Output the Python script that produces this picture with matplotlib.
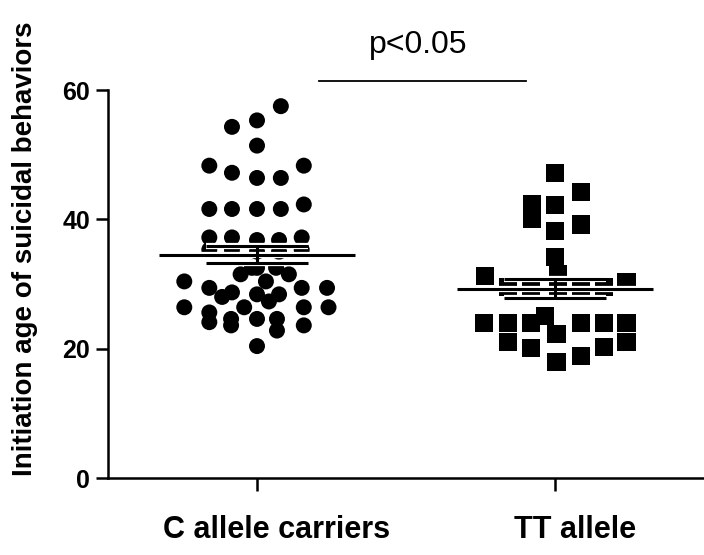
import numpy as np
import matplotlib
matplotlib.use("Agg")
from matplotlib import pyplot as plt
from matplotlib import patheffects as pe
from matplotlib import transforms

plt.rcParams['font.family'] = ['Liberation Sans', 'DejaVu Sans']

# group names and tick labels
groups = ["C allele carriers", "TT allele"]
y_ticks = [0, 20, 40, 60]

# C allele carriers: ages, with the horizontal spread of each dot
c_values = [57.5, 55.3, 54.3, 51.4, 48.3, 48.3, 47.2, 46.4, 46.4, 42.3,
            41.6, 41.6, 41.6, 41.6, 37.2, 37.2, 37.2, 36.8, 36.8,
            35.3, 35.3, 35.3, 35.0, 35.0, 32.5, 32.5, 32.5,
            31.5, 31.5, 30.4, 30.4, 29.4, 29.4, 29.4,
            28.0, 28.7, 28.4, 27.3, 28.4, 26.4, 26.4, 26.4, 26.4,
            25.6, 24.1, 24.6, 24.6, 24.6, 23.6, 23.6, 22.8, 20.4]
c_spread = [0.08, 0.0, -0.084, 0.0, -0.16, 0.157, -0.084, 0.0, 0.08, 0.157,
            -0.16, -0.084, 0.0, 0.08, -0.16, -0.084, 0.15, 0.0, 0.074,
            -0.16, -0.084, 0.15, 0.0, 0.074, -0.017, 0.0, 0.064,
            -0.055, 0.107, 0.03, -0.244, -0.16, 0.15, 0.235,
            -0.117, -0.084, 0.0, 0.04, 0.074, -0.244, -0.043, 0.157, 0.24,
            -0.16, -0.16, -0.087, 0.0, 0.067, -0.087, 0.157, 0.067, 0.0]

# TT allele
tt_values = [47.2, 44.2, 42.4, 40.0, 42.2, 39.2, 38.2, 34.2,
             31.2, 29.6, 29.6, 31.5, 28.9, 29.6, 29.6, 30.3,
             24.0, 24.0, 24.0, 25.1, 24.0, 24.0, 24.0,
             21.0, 22.2, 20.1, 20.3, 21.1, 18.9, 18.0]
tt_spread = [0.0, 0.087, -0.077, -0.077, 0.0, 0.087, 0.0, 0.0,
             -0.234, -0.157, -0.08, 0.01, 0.01, 0.087, 0.165, 0.24,
             -0.237, -0.157, -0.08, -0.035, 0.087, 0.165, 0.24,
             -0.157, 0.005, -0.08, 0.165, 0.24, 0.087, 0.005]

p_text = "p<0.05"


def draw_group(ax, pos, values, spread, marker, size):
    values = np.array(values)
    ax.scatter(pos + np.array(spread), values, s=size ** 2, marker=marker,
               color='black', edgecolors='none', zorder=2)
    mean = values.mean()
    sem = values.std(ddof=1) / np.sqrt(len(values))
    halo = [pe.Stroke(linewidth=4.5, foreground='white'), pe.Normal()]
    ax.hlines(mean, pos - 0.33, pos + 0.33, color='black', lw=2.2,
              zorder=3, path_effects=halo)
    ax.hlines([mean - sem, mean + sem], pos - 0.17, pos + 0.17,
              color='black', lw=2.2, zorder=3, path_effects=halo)
    ax.vlines(pos, mean - sem, mean + sem, color='black', lw=2.2, zorder=3)


fig = plt.figure(figsize=(7.04, 5.55), dpi=100)
ax = fig.add_axes([108 / 704, 1 - 478 / 555, 596 / 704, 388 / 555])

draw_group(ax, 1, c_values, c_spread, 'o', 11.5)
draw_group(ax, 2, tt_values, tt_spread, 's', 13)

ax.set_xlim(0.5, 2.5)
ax.set_ylim(0, 60)
ax.set_xticks([1, 2])
ax.set_xticklabels(groups, fontsize=22, fontweight='bold')
ax.set_yticks(y_ticks)
ax.set_yticklabels([str(t) for t in y_ticks], fontsize=18, fontweight='bold')
ax.tick_params(axis='both', length=9, width=1.8, direction='out')
ax.tick_params(axis='x', pad=18)
ax.tick_params(axis='y', pad=4)
# the group labels sit a little right of their ticks in the original
shift = transforms.ScaledTranslation(0.2, 0, fig.dpi_scale_trans)
for lbl in ax.get_xticklabels():
    lbl.set_transform(lbl.get_transform() + shift)
for side in ['top', 'right']:
    ax.spines[side].set_visible(False)
for side in ['left', 'bottom']:
    ax.spines[side].set_linewidth(1.8)

# significance bar
ax.plot([1.207, 1.903], [61.4, 61.4], color='black', lw=1.3, clip_on=False)
ax.text(1.54, 67.0, p_text, fontsize=23, ha='center', va='center')

fig.text(25 / 704, 1 - 249 / 555, "Initiation age of suicidal behaviors",
         rotation=90, fontsize=20, fontweight='bold', ha='center', va='center')

fig.savefig("out.png", dpi=100, facecolor='white')
